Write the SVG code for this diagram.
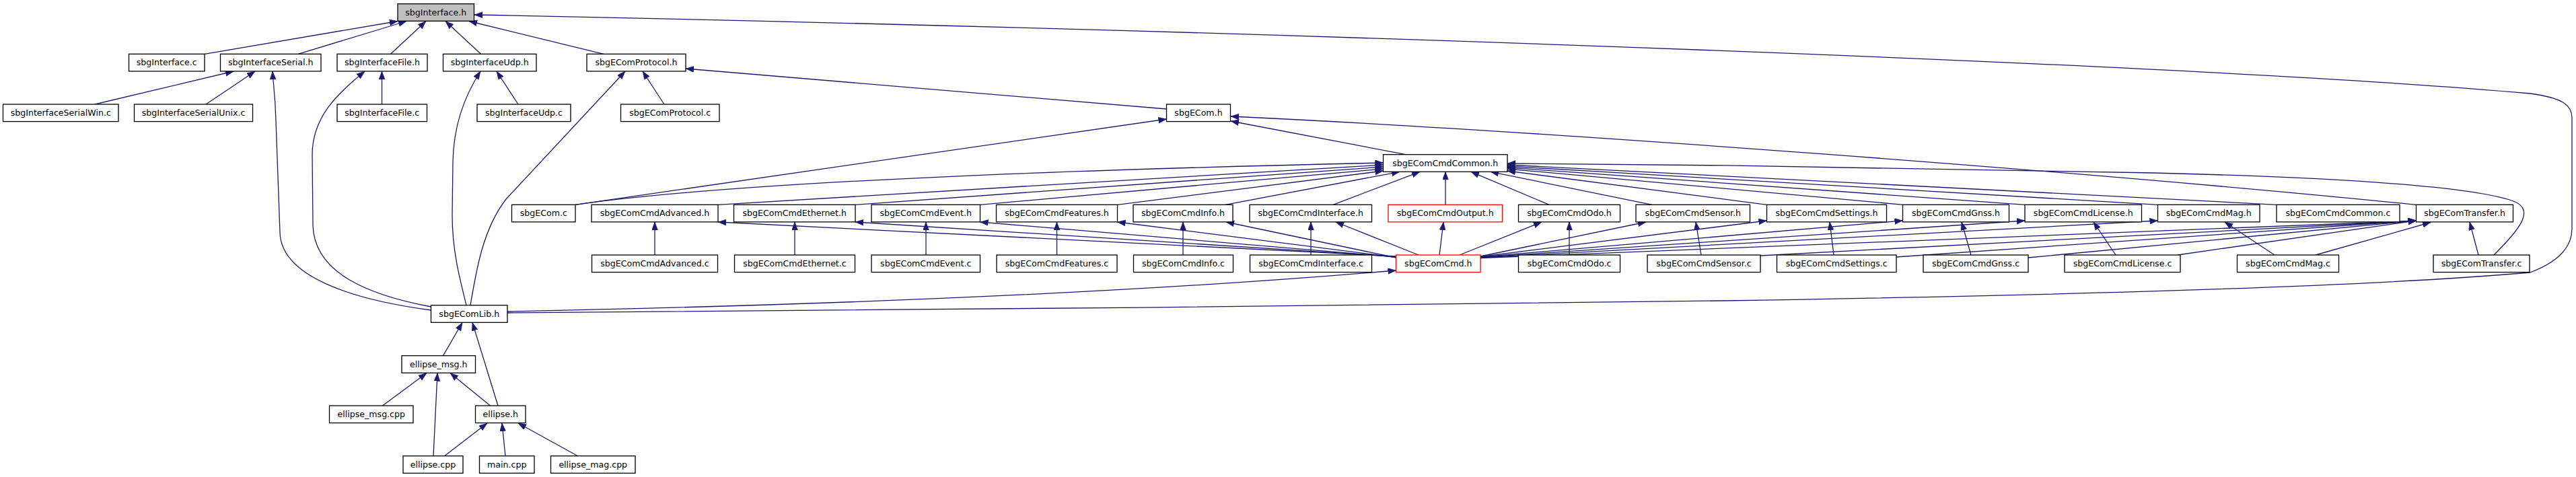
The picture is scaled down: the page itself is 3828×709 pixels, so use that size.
<svg xmlns="http://www.w3.org/2000/svg" width="3828" height="709" viewBox="0 0 3828 709">
<style>
.n rect{fill:#fff;stroke:#000;stroke-width:1.3}
.n text{font-family:"DejaVu Sans",sans-serif;font-size:12.6px;text-anchor:middle;fill:#000}
.r rect{stroke:#f00}
.g rect{fill:#bfbfbf}
#edges path{fill:none;stroke:#191970;stroke-width:1.3;marker-end:url(#a)}
</style>
<defs>
<marker id="a" markerUnits="userSpaceOnUse" markerWidth="13" markerHeight="10" viewBox="0 0 13 10" refX="12" refY="4.5" orient="auto"><path d="M0,0 L12,4.5 L0,9 z" fill="#191970" stroke="#191970" stroke-width="0.5"/></marker>
</defs>
<rect width="3828" height="709" fill="#fff"/>
<g id="edges">
<path d="M304,80.3 L591,31.5"/>
<path d="M443,80.3 L604,31.5"/>
<path d="M580.5,80.3 L633,31.5"/>
<path d="M714.5,80.3 L662,31.5"/>
<path d="M897,80.3 L697,31.5"/>
<path d="M754,465 C1300,461 2000,455 2560,447 C3000,440 3500,428 3760,405 C3805,388 3822,365 3822,340 L3822,175 C3822,155 3805,145 3760,139 C3300,98 2000,48 705,22"/>
<path d="M141,155 L347,106"/>
<path d="M306,155 L379,106"/>
<path d="M567.5,155 L567.5,106"/>
<path d="M770,155 L738,106"/>
<path d="M987,155 L955,106"/>
<path d="M640.5,461 C520,445 417,410 416,345 L410,180 C409,140 406,125 405,106"/>
<path d="M640.5,456 C545,438 467,405 465,335 L464,230 C464,175 500,140 542,106"/>
<path d="M693,453.7 C682,410 672,370 672,320 L673,240 C674,185 692,140 714,106"/>
<path d="M699,453.7 C708,400 718,340 752,296 L929,106"/>
<path d="M1733.5,162 L1019,102"/>
<path d="M855,304.3 L1733.5,177"/>
<path d="M2089,229.7 L1829,180"/>
<path d="M3590.5,304.3 C3100,255 2300,195 1829,173"/>
<path d="M855,304.3 Q1150,262 2055.5,242"/>
<path d="M1067,304.3 L2055.5,245"/>
<path d="M1271,304.3 L2055.5,248"/>
<path d="M1456.5,304.3 L2055.5,251"/>
<path d="M1660.5,304.3 L2055.5,254"/>
<path d="M1821,304.3 L2080,255.3"/>
<path d="M1981,304.3 L2110,255.3"/>
<path d="M2148,304.3 L2148,255.3"/>
<path d="M2302,304.3 L2186,255.3"/>
<path d="M2455,304.3 L2215,255.3"/>
<path d="M2625.5,304.3 L2240,254"/>
<path d="M2827.5,304.3 L2240,251"/>
<path d="M3009,304.3 L2240,249"/>
<path d="M3206.5,304.3 L2240,247"/>
<path d="M3383,304.3 L2240,245"/>
<path d="M3706,379 C3740,345 3770,312 3735,299 C3660,272 3400,262 3200,257 C2900,250 2560,245 2240,243"/>
<path d="M2074.5,381 L1067,330"/>
<path d="M2074.5,381.5 L1271,330"/>
<path d="M2074.5,382 L1456.5,330"/>
<path d="M2074.5,382.5 L1660.5,330"/>
<path d="M2074.5,383 L1822,330"/>
<path d="M2108,379 L1985,330"/>
<path d="M2139,379 L2145,330"/>
<path d="M2169,379 L2291,330"/>
<path d="M2200,381 L2446,330"/>
<path d="M2200,381.5 L2625.5,328"/>
<path d="M2200,382 L2827.5,328"/>
<path d="M2200,382.5 L3009,328"/>
<path d="M2200,383 L3206.5,328"/>
<path d="M2200,383.5 L3590.5,328"/>
<path d="M973,379 L973,330"/>
<path d="M1181,379 L1181,330"/>
<path d="M1376,379 L1376,330"/>
<path d="M1570.5,379 L1570.5,330"/>
<path d="M1758,379 L1758,330"/>
<path d="M1948,379 L1948,330"/>
<path d="M2332,379 L2332,330"/>
<path d="M2528,379 L2520,330"/>
<path d="M2725,379 L2719,330"/>
<path d="M2929,379 L2915,330"/>
<path d="M3144,379 L3111,330"/>
<path d="M3380,379 L3306,330"/>
<path d="M3683,379 L3670,330"/>
<path d="M2616,380 L3590.5,328"/>
<path d="M2818,382 L3590.5,328"/>
<path d="M3014,383 L3590.5,328"/>
<path d="M3236,379 L3590.5,328"/>
<path d="M3441,379 L3612,330.5"/>
<path d="M754,463 C1300,452 1750,430 2074.5,402"/>
<path d="M658.5,528.7 L687,479.5"/>
<path d="M740,603 L702,479.5"/>
<path d="M568.5,603 L634,554.5"/>
<path d="M644,677.7 L650,554.5"/>
<path d="M728.5,603 L669,554.5"/>
<path d="M660.5,677.7 L724,629"/>
<path d="M751,677.7 L746,629"/>
<path d="M858.5,677.7 L770,629"/>
</g>
<g id="n_sbgInterface_h" class="n g"><rect x="591" y="5.7" width="113.5" height="25.6"/><text x="647.75" y="22.7">sbgInterface.h</text></g>
<g id="n_sbgInterface_c" class="n"><rect x="191.5" y="80.3" width="112.5" height="25.6"/><text x="247.75" y="97.3">sbgInterface.c</text></g>
<g id="n_sbgInterfaceSerial_h" class="n"><rect x="327.5" y="80.3" width="149.5" height="25.6"/><text x="402.25" y="97.3">sbgInterfaceSerial.h</text></g>
<g id="n_sbgInterfaceFile_h" class="n"><rect x="501" y="80.3" width="134" height="25.6"/><text x="568" y="97.3">sbgInterfaceFile.h</text></g>
<g id="n_sbgInterfaceUdp_h" class="n"><rect x="658.5" y="80.3" width="138.5" height="25.6"/><text x="727.75" y="97.3">sbgInterfaceUdp.h</text></g>
<g id="n_sbgEComProtocol_h" class="n"><rect x="872" y="80.3" width="147" height="25.6"/><text x="945.5" y="97.3">sbgEComProtocol.h</text></g>
<g id="n_sbgInterfaceSerialWin_c" class="n"><rect x="4.5" y="155" width="171.5" height="25.6"/><text x="90.25" y="172">sbgInterfaceSerialWin.c</text></g>
<g id="n_sbgInterfaceSerialUnix_c" class="n"><rect x="199.5" y="155" width="176" height="25.6"/><text x="287.5" y="172">sbgInterfaceSerialUnix.c</text></g>
<g id="n_sbgInterfaceFile_c" class="n"><rect x="501" y="155" width="133.5" height="25.6"/><text x="567.75" y="172">sbgInterfaceFile.c</text></g>
<g id="n_sbgInterfaceUdp_c" class="n"><rect x="709" y="155" width="139" height="25.6"/><text x="778.5" y="172">sbgInterfaceUdp.c</text></g>
<g id="n_sbgEComProtocol_c" class="n"><rect x="922.5" y="155" width="146.5" height="25.6"/><text x="995.75" y="172">sbgEComProtocol.c</text></g>
<g id="n_sbgECom_h" class="n"><rect x="1733.5" y="155" width="95" height="25.6"/><text x="1781" y="172">sbgECom.h</text></g>
<g id="n_sbgEComCmdCommon_h" class="n"><rect x="2055.5" y="229.7" width="184.5" height="25.6"/><text x="2147.75" y="246.7">sbgEComCmdCommon.h</text></g>
<g id="n_sbgECom_c" class="n"><rect x="760.5" y="304.3" width="94.5" height="25.6"/><text x="807.75" y="321.3">sbgECom.c</text></g>
<g id="n_sbgEComCmdAdvanced_h" class="n"><rect x="879" y="304.3" width="188" height="25.6"/><text x="973" y="321.3">sbgEComCmdAdvanced.h</text></g>
<g id="n_sbgEComCmdEthernet_h" class="n"><rect x="1090.5" y="304.3" width="180.5" height="25.6"/><text x="1180.75" y="321.3">sbgEComCmdEthernet.h</text></g>
<g id="n_sbgEComCmdEvent_h" class="n"><rect x="1295" y="304.3" width="161.5" height="25.6"/><text x="1375.75" y="321.3">sbgEComCmdEvent.h</text></g>
<g id="n_sbgEComCmdFeatures_h" class="n"><rect x="1480.5" y="304.3" width="180" height="25.6"/><text x="1570.5" y="321.3">sbgEComCmdFeatures.h</text></g>
<g id="n_sbgEComCmdInfo_h" class="n"><rect x="1684" y="304.3" width="148" height="25.6"/><text x="1758" y="321.3">sbgEComCmdInfo.h</text></g>
<g id="n_sbgEComCmdInterface_h" class="n"><rect x="1857" y="304.3" width="181.5" height="25.6"/><text x="1947.75" y="321.3">sbgEComCmdInterface.h</text></g>
<g id="n_sbgEComCmdOutput_h" class="n r"><rect x="2063" y="304.3" width="169.5" height="25.6"/><text x="2147.75" y="321.3">sbgEComCmdOutput.h</text></g>
<g id="n_sbgEComCmdOdo_h" class="n"><rect x="2256.5" y="304.3" width="151" height="25.6"/><text x="2332" y="321.3">sbgEComCmdOdo.h</text></g>
<g id="n_sbgEComCmdSensor_h" class="n"><rect x="2431" y="304.3" width="169.5" height="25.6"/><text x="2515.75" y="321.3">sbgEComCmdSensor.h</text></g>
<g id="n_sbgEComCmdSettings_h" class="n"><rect x="2625.5" y="304.3" width="178" height="25.6"/><text x="2714.5" y="321.3">sbgEComCmdSettings.h</text></g>
<g id="n_sbgEComCmdGnss_h" class="n"><rect x="2827.5" y="304.3" width="158" height="25.6"/><text x="2906.5" y="321.3">sbgEComCmdGnss.h</text></g>
<g id="n_sbgEComCmdLicense_h" class="n"><rect x="3009" y="304.3" width="173.5" height="25.6"/><text x="3095.75" y="321.3">sbgEComCmdLicense.h</text></g>
<g id="n_sbgEComCmdMag_h" class="n"><rect x="3206.5" y="304.3" width="151.5" height="25.6"/><text x="3282.25" y="321.3">sbgEComCmdMag.h</text></g>
<g id="n_sbgEComCmdCommon_c" class="n"><rect x="3383" y="304.3" width="183" height="25.6"/><text x="3474.5" y="321.3">sbgEComCmdCommon.c</text></g>
<g id="n_sbgEComTransfer_h" class="n"><rect x="3590.5" y="304.3" width="144" height="25.6"/><text x="3662.5" y="321.3">sbgEComTransfer.h</text></g>
<g id="n_sbgEComCmdAdvanced_c" class="n"><rect x="879.5" y="379" width="187" height="25.6"/><text x="973" y="396">sbgEComCmdAdvanced.c</text></g>
<g id="n_sbgEComCmdEthernet_c" class="n"><rect x="1091.5" y="379" width="179" height="25.6"/><text x="1181" y="396">sbgEComCmdEthernet.c</text></g>
<g id="n_sbgEComCmdEvent_c" class="n"><rect x="1295" y="379" width="161.5" height="25.6"/><text x="1375.75" y="396">sbgEComCmdEvent.c</text></g>
<g id="n_sbgEComCmdFeatures_c" class="n"><rect x="1481" y="379" width="179" height="25.6"/><text x="1570.5" y="396">sbgEComCmdFeatures.c</text></g>
<g id="n_sbgEComCmdInfo_c" class="n"><rect x="1684.5" y="379" width="148" height="25.6"/><text x="1758.5" y="396">sbgEComCmdInfo.c</text></g>
<g id="n_sbgEComCmdInterface_c" class="n"><rect x="1857.5" y="379" width="181" height="25.6"/><text x="1948" y="396">sbgEComCmdInterface.c</text></g>
<g id="n_sbgEComCmd_h" class="n r"><rect x="2074.5" y="379" width="125.5" height="25.6"/><text x="2137.25" y="396">sbgEComCmd.h</text></g>
<g id="n_sbgEComCmdOdo_c" class="n"><rect x="2256.5" y="379" width="151" height="25.6"/><text x="2332" y="396">sbgEComCmdOdo.c</text></g>
<g id="n_sbgEComCmdSensor_c" class="n"><rect x="2448" y="379" width="168" height="25.6"/><text x="2532" y="396">sbgEComCmdSensor.c</text></g>
<g id="n_sbgEComCmdSettings_c" class="n"><rect x="2640.5" y="379" width="177.5" height="25.6"/><text x="2729.25" y="396">sbgEComCmdSettings.c</text></g>
<g id="n_sbgEComCmdGnss_c" class="n"><rect x="2858" y="379" width="156" height="25.6"/><text x="2936" y="396">sbgEComCmdGnss.c</text></g>
<g id="n_sbgEComCmdLicense_c" class="n"><rect x="3068" y="379" width="172" height="25.6"/><text x="3154" y="396">sbgEComCmdLicense.c</text></g>
<g id="n_sbgEComCmdMag_c" class="n"><rect x="3324.5" y="379" width="151" height="25.6"/><text x="3400" y="396">sbgEComCmdMag.c</text></g>
<g id="n_sbgEComTransfer_c" class="n"><rect x="3616" y="379" width="143" height="25.6"/><text x="3687.5" y="396">sbgEComTransfer.c</text></g>
<g id="n_sbgEComLib_h" class="n"><rect x="640.5" y="453.7" width="113.5" height="25.6"/><text x="697.25" y="470.7">sbgEComLib.h</text></g>
<g id="n_ellipse_msg_h" class="n"><rect x="597" y="528.7" width="109.5" height="25.6"/><text x="651.75" y="545.7">ellipse_msg.h</text></g>
<g id="n_ellipse_msg_cpp" class="n"><rect x="489.5" y="603" width="124.5" height="25.6"/><text x="551.75" y="620">ellipse_msg.cpp</text></g>
<g id="n_ellipse_h" class="n"><rect x="706.5" y="603" width="74.5" height="25.6"/><text x="743.75" y="620">ellipse.h</text></g>
<g id="n_ellipse_cpp" class="n"><rect x="599" y="677.7" width="89" height="25.6"/><text x="643.5" y="694.7">ellipse.cpp</text></g>
<g id="n_main_cpp" class="n"><rect x="712.5" y="677.7" width="81.5" height="25.6"/><text x="753.25" y="694.7">main.cpp</text></g>
<g id="n_ellipse_mag_cpp" class="n"><rect x="818.5" y="677.7" width="125.5" height="25.6"/><text x="881.25" y="694.7">ellipse_mag.cpp</text></g>
</svg>
